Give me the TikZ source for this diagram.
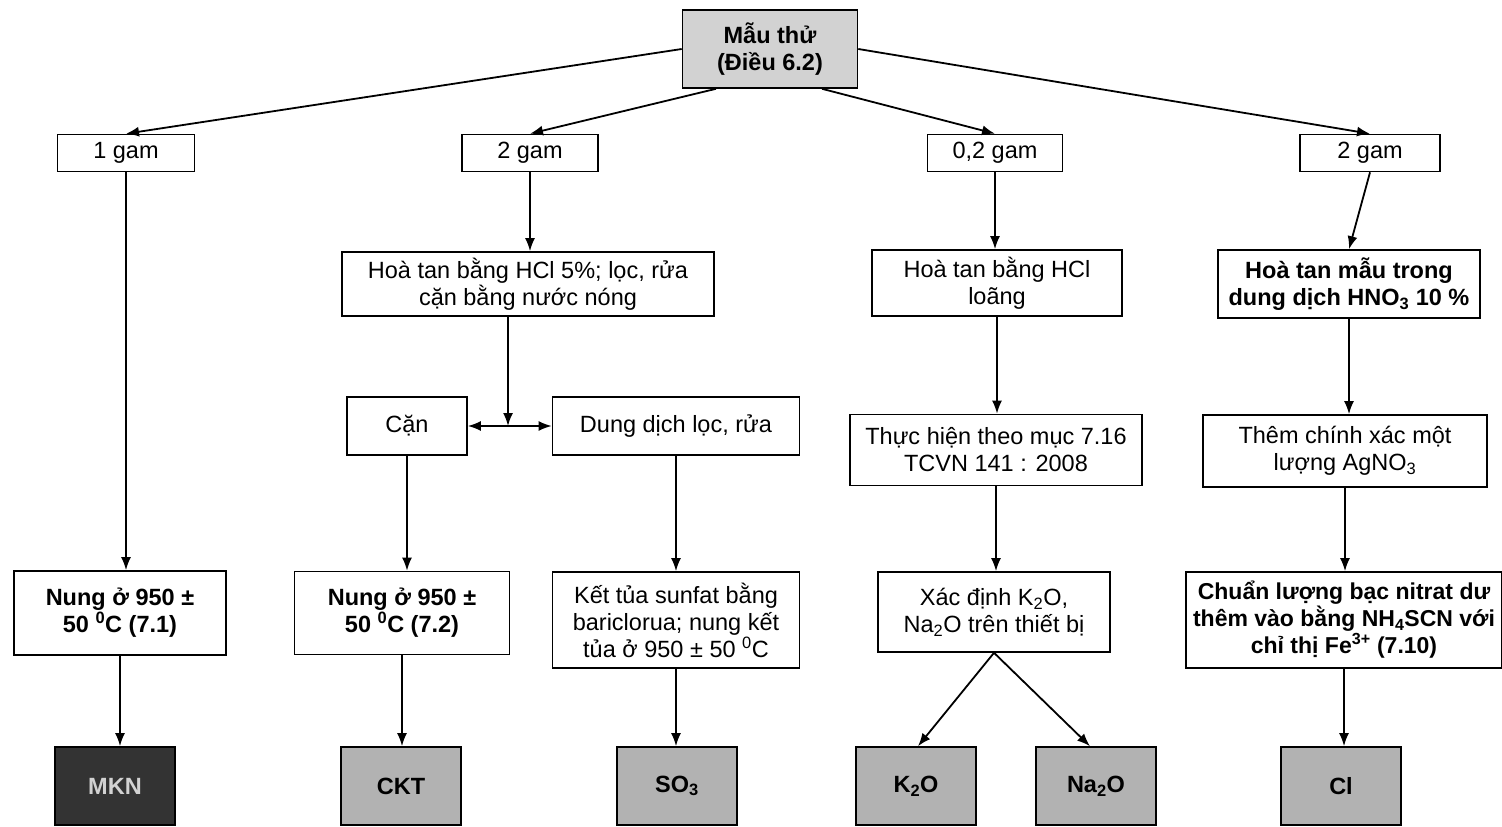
\documentclass[tikz,border=0pt]{standalone}
\usepackage{fontspec}
\setsansfont{Liberation Sans}
\usetikzlibrary{arrows.meta}

\begin{document}
\begin{tikzpicture}[>={Latex[length=13pt,width=10pt]},font=\sffamily\fontsize{23.5}{27}\selectfont,x=1pt,y=-1pt,line width=1.8pt,
    box/.style={draw,align=center,inner sep=0pt,line width=1.6pt},
    result/.style={box,fill=gray!60,font=\sffamily\bfseries\fontsize{23.5}{27}\selectfont,minimum width=120,minimum height=78}]
    \useasboundingbox (0,0) rectangle (1502,827);
    % top
    \node [box,fill=gray!35,font=\sffamily\bfseries\fontsize{23.5}{27}\selectfont,minimum width=175,minimum height=78] (Sample) at (770,49) {Mẫu thử\\(Điều 6.2)};
    \node [box,minimum width=137,minimum height=37] (OneGram) at (126,153) {1 gam};
    \node [box,minimum width=136,minimum height=37] (TwoGram) at (530,153) {2 gam};
    \node [box,minimum width=135,minimum height=37] (PointTwo) at (995,153) {0,2 gam};
    \node [box,minimum width=140,minimum height=37] (TwoGramB) at (1370,153) {2 gam};
    \draw [->] (Sample.west) -- (OneGram.north);
    \draw [->] ([xshift=-54]Sample.south) -- (TwoGram.north);
    \draw [->] ([xshift=52]Sample.south) -- (PointTwo.north);
    \draw [->] (Sample.east) -- (TwoGramB.north);
    % column 1
    \node [box,font=\sffamily\bfseries\fontsize{23.5}{27}\selectfont,minimum width=212,minimum height=84] (FireA) at (120,613) {Nung ở 950 ±\\50 \textsuperscript{0}C (7.1)};
    \node [result,fill=black!80,text=gray!35] (MKN) at (115,786) {MKN};
    % column 2
    \node [box,minimum width=372,minimum height=64] (Dissolve) at (528,284) {Hoà tan bằng HCl 5\%; lọc, rửa\\cặn bằng nước nóng};
    \node [box,minimum width=120,minimum height=58] (Residue) at (407,426) {Cặn};
    \node [box,minimum width=247,minimum height=58] (Filtrate) at (676,426) {Dung dịch lọc, rửa};
    \coordinate (Split) at (508,426);
    \node [box,font=\sffamily\bfseries\fontsize{23.5}{27}\selectfont,minimum width=215,minimum height=83] (FireB) at (402,613) {Nung ở 950 ±\\50 \textsuperscript{0}C (7.2)};
    \node [box,minimum width=247,minimum height=96] (Precip) at (676,620) {Kết tủa sunfat bằng\\bariclorua; nung kết\\tủa ở 950 ± 50 \textsuperscript{0}C};
    \node [result] (CKT) at (401,786) {CKT};
    \node [result] (SO3) at (677,786) {SO\textsubscript{3}};
    \draw [->] (Dissolve.south -| Split) -- (Split);
    \draw [<->] (Residue.east) -- (Filtrate.west);
    % column 3
    \node [box,minimum width=250,minimum height=66] (Dilute) at (997,283) {Hoà tan bằng HCl\\loãng};
    \node [box,minimum width=292,minimum height=71] (Method) at (996,450) {Thực hiện theo mục 7.16\\TCVN 141 : 2008};
    \node [box,minimum width=232,minimum height=80] (Detect) at (994,612) {Xác định K\textsubscript{2}O,\\Na\textsubscript{2}O trên thiết bị};
    \node [result] (KO) at (916,786) {K\textsubscript{2}O};
    \node [result] (NaO) at (1096,786) {Na\textsubscript{2}O};
    \draw [->] (Detect.south) -- ([xshift=2]KO.north);
    \draw [->] (Detect.south) -- ([xshift=-6]NaO.north);
    % column 4
    \node [box,font=\sffamily\bfseries\fontsize{23.5}{27}\selectfont,minimum width=262,minimum height=68] (DissolveB) at (1349,284) {Hoà tan mẫu trong\\dung dịch HNO\textsubscript{3} 10 \%};
    \node [box,minimum width=284,minimum height=72] (Silver) at (1345,451) {Thêm chính xác một\\lượng AgNO\textsubscript{3}};
    \node [box,font=\sffamily\bfseries\fontsize{23}{27}\selectfont,minimum width=316,minimum height=96] (Titrate) at (1344,620) {Chuẩn lượng bạc nitrat dư\\thêm vào bằng NH\textsubscript{4}SCN với\\chỉ thị Fe\textsuperscript{3+} (7.10)};
    \node [result] (Cl) at (1341,786) {Cl};
    \draw [->] (TwoGramB.south) -- (DissolveB.north);
    % straight down arrows
    \foreach \from/\to in {OneGram/FireA,FireA/MKN,TwoGram/Dissolve,Residue/FireB,FireB/CKT,Filtrate/Precip,Precip/SO3,
        PointTwo/Dilute,Dilute/Method,Method/Detect,DissolveB/Silver,Silver/Titrate,Titrate/Cl}
        \draw [->] (\from.south) -- (\from.south |- \to.north);
\end{tikzpicture}
\end{document}
